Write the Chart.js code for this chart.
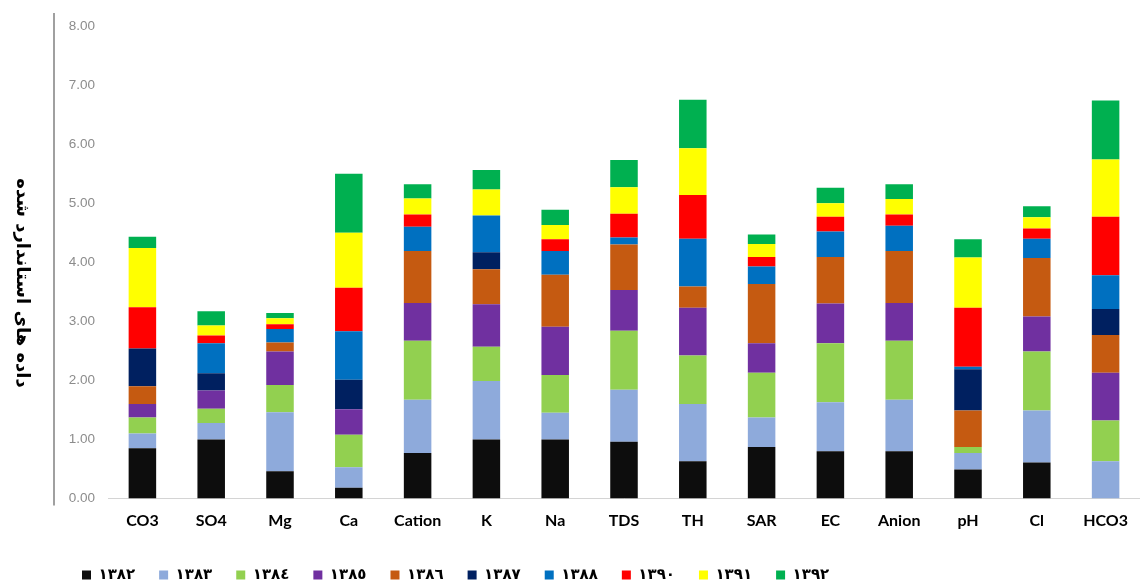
<!DOCTYPE html>
<html>
<head>
<meta charset="utf-8">
<script src="https://cdn.jsdelivr.net/npm/chart.js@4/dist/chart.umd.min.js"></script>
<style>
  html, body { margin: 0; padding: 0; background: #ffffff; }
  #wrap { width: 1140px; height: 588px; position: relative; }
</style>
</head>
<body>
<div id="wrap"><canvas id="chart"></canvas></div>
<script>
// Parameters on the horizontal axis
const categories = ['CO3', 'SO4', 'Mg', 'Ca', 'Cation', 'K', 'Na', 'TDS', 'TH', 'SAR', 'EC', 'Anion', 'pH', 'Cl', 'HCO3'];

// Years (Solar Hijri) shown in the legend
const years = ['١٣٨٢', '١٣٨٣', '١٣٨٤', '١٣٨٥', '١٣٨٦', '١٣٨٧', '١٣٨٨', '١٣٩٠', '١٣٩١', '١٣٩٢'];

// Standardised values per year, one entry per parameter (same order as categories)
const y1382 = [0.85, 1.00, 0.46, 0.18, 0.77, 1.00, 1.00, 0.96, 0.63, 0.87, 0.80, 0.80, 0.49, 0.61, 0.00];
const y1383 = [0.25, 0.28, 1.00, 0.35, 0.90, 0.99, 0.45, 0.88, 0.97, 0.50, 0.83, 0.87, 0.28, 0.88, 0.63];
const y1384 = [0.27, 0.24, 0.46, 0.55, 1.00, 0.58, 0.64, 1.00, 0.82, 0.76, 1.00, 1.00, 0.10, 1.00, 0.69];
const y1385 = [0.23, 0.31, 0.57, 0.43, 0.64, 0.72, 0.82, 0.69, 0.81, 0.50, 0.67, 0.64, 0.00, 0.59, 0.81];
const y1386 = [0.30, 0.00, 0.15, 0.00, 0.88, 0.59, 0.88, 0.77, 0.36, 1.00, 0.79, 0.88, 0.62, 0.99, 0.64];
const y1387 = [0.64, 0.29, 0.00, 0.50, 0.00, 0.29, 0.00, 0.00, 0.00, 0.00, 0.00, 0.00, 0.70, 0.00, 0.44];
const y1388 = [0.00, 0.51, 0.23, 0.82, 0.41, 0.62, 0.40, 0.12, 0.81, 0.30, 0.43, 0.43, 0.04, 0.33, 0.57];
const y1390 = [0.70, 0.13, 0.08, 0.74, 0.21, 0.00, 0.20, 0.40, 0.74, 0.16, 0.25, 0.19, 1.00, 0.17, 0.99];
const y1391 = [1.00, 0.17, 0.10, 0.93, 0.27, 0.44, 0.24, 0.45, 0.79, 0.22, 0.23, 0.26, 0.85, 0.19, 0.97];
const y1392 = [0.19, 0.24, 0.09, 1.00, 0.24, 0.33, 0.26, 0.46, 0.82, 0.16, 0.26, 0.25, 0.31, 0.19, 1.00];

// Y axis ticks
const yTicks = [0, 1, 2, 3, 4, 5, 6, 7, 8];

const seriesValues = [y1382, y1383, y1384, y1385, y1386, y1387, y1388, y1390, y1391, y1392];
const seriesColors = ['#0d0d0d', '#8eaadb', '#92d050', '#7030a0', '#c55a11', '#002060', '#0070c0', '#ff0000', '#ffff00', '#00b050'];

const yTitle = 'داده های استاندارد شده';

const datasets = seriesValues.map((vals, i) => ({
  label: years[i],
  data: vals,
  backgroundColor: seriesColors[i],
  borderWidth: 0,
  barPercentage: 0.4,
  categoryPercentage: 1.0
}));

// Draws the rotated axis title and the vertical axis rule at the left
const sideDecor = {
  id: 'sideDecor',
  afterDraw(chart) {
    const ctx = chart.ctx;
    const yScale = chart.scales.y;
    ctx.save();
    ctx.strokeStyle = '#808080';
    ctx.lineWidth = 1.5;
    ctx.beginPath();
    ctx.moveTo(54, yScale.getPixelForValue(8) - 13);
    ctx.lineTo(54, yScale.getPixelForValue(0) + 7);
    ctx.stroke();
    ctx.restore();

    ctx.save();
    ctx.translate(22, 283);
    ctx.rotate(Math.PI / 2);
    ctx.font = 'bold 18px "DejaVu Sans"';
    ctx.fillStyle = '#000000';
    ctx.textAlign = 'center';
    ctx.textBaseline = 'middle';
    ctx.fillText(yTitle, 0, 0);
    ctx.restore();
  }
};

new Chart(document.getElementById('chart'), {
  type: 'bar',
  data: { labels: categories, datasets },
  plugins: [sideDecor],
  options: {
    responsive: true,
    maintainAspectRatio: false,
    animation: false,
    layout: { padding: { left: 58, right: 0, top: 26, bottom: -4.5 } },
    plugins: {
      tooltip: { enabled: false },
      legend: {
        position: 'bottom',
        align: 'start',
        labels: {
          boxWidth: 9,
          boxHeight: 9,
          padding: 24,
          color: '#000000',
          font: { family: '"DejaVu Sans"', size: 15, weight: 'bold' }
        }
      }
    },
    scales: {
      x: {
        stacked: true,
        grid: { display: false, drawTicks: false },
        border: { display: true, color: '#d4d4d4', width: 1 },
        ticks: {
          color: '#000000',
          padding: 8,
          font: { family: 'Lato', size: 16, weight: 'bold', lineHeight: 1.8125 }
        }
      },
      y: {
        stacked: true,
        min: 0,
        max: 8,
        afterFit(scale) { scale.width = 50; },
        afterBuildTicks(scale) { scale.ticks = yTicks.map(v => ({ value: v })); },
        grid: { display: false, drawTicks: false },
        border: { display: false },
        ticks: {
          color: '#8c8c8c',
          padding: 13,
          font: { family: '"Liberation Sans"', size: 13.5 },
          callback: (v) => Number(v).toFixed(2)
        }
      }
    }
  }
});
</script>
</body>
</html>
